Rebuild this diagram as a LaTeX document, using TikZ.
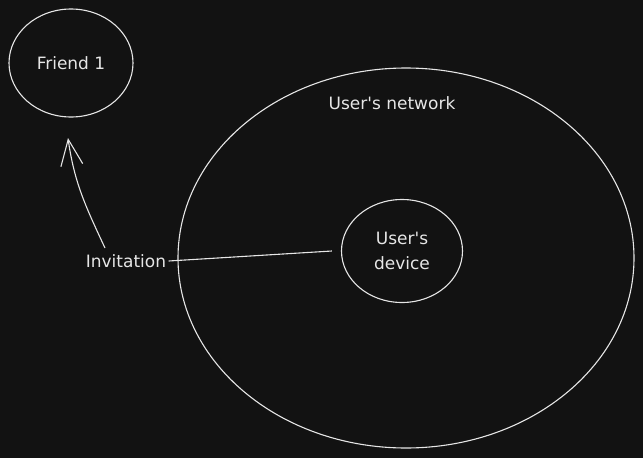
\documentclass[tikz,border=0pt]{standalone}
\usepackage{fontspec}
\setmainfont{DejaVu Sans}
\usetikzlibrary{shapes.geometric,arrows.meta}
\definecolor{ink}{HTML}{E6E6E6}
\definecolor{bg}{HTML}{121212}
\begin{document}
\begin{tikzpicture}[x=1pt,y=-1pt,line width=1.1pt,color=ink,
		bubble/.style={ellipse,draw,inner sep=0pt},
		word/.style={font=\fontsize{17}{25}\selectfont,align=center}]
		\fill[bg] (0,0) rectangle (643,458);

		\draw (71,63) node[bubble,minimum width=124pt,minimum height=108pt] (friend) {};
		\draw (71,63) node[word] (friendtext) {Friend 1};

		\draw (406,258) node[bubble,minimum width=456pt,minimum height=380pt] (network) {};
		\draw (392,103) node[word] (networktext) {User\textquotesingle s network};

		\draw (402,251) node[bubble,minimum width=121pt,minimum height=103pt] (device) {};
		\draw (402,251) node[word] (devicetext) {User\textquotesingle s\\device};

		\draw (126,261) node[word,inner sep=2pt] (invite) {Invitation};
		\coordinate (tip) at (68,138);

		\draw [-{Straight Barb[length=26pt,width=22pt]}] (105,248) to[out=115,in=-82] (tip);
		\draw (invite.east) -- ([xshift=-9pt]device.west);
	\end{tikzpicture}
\end{document}
